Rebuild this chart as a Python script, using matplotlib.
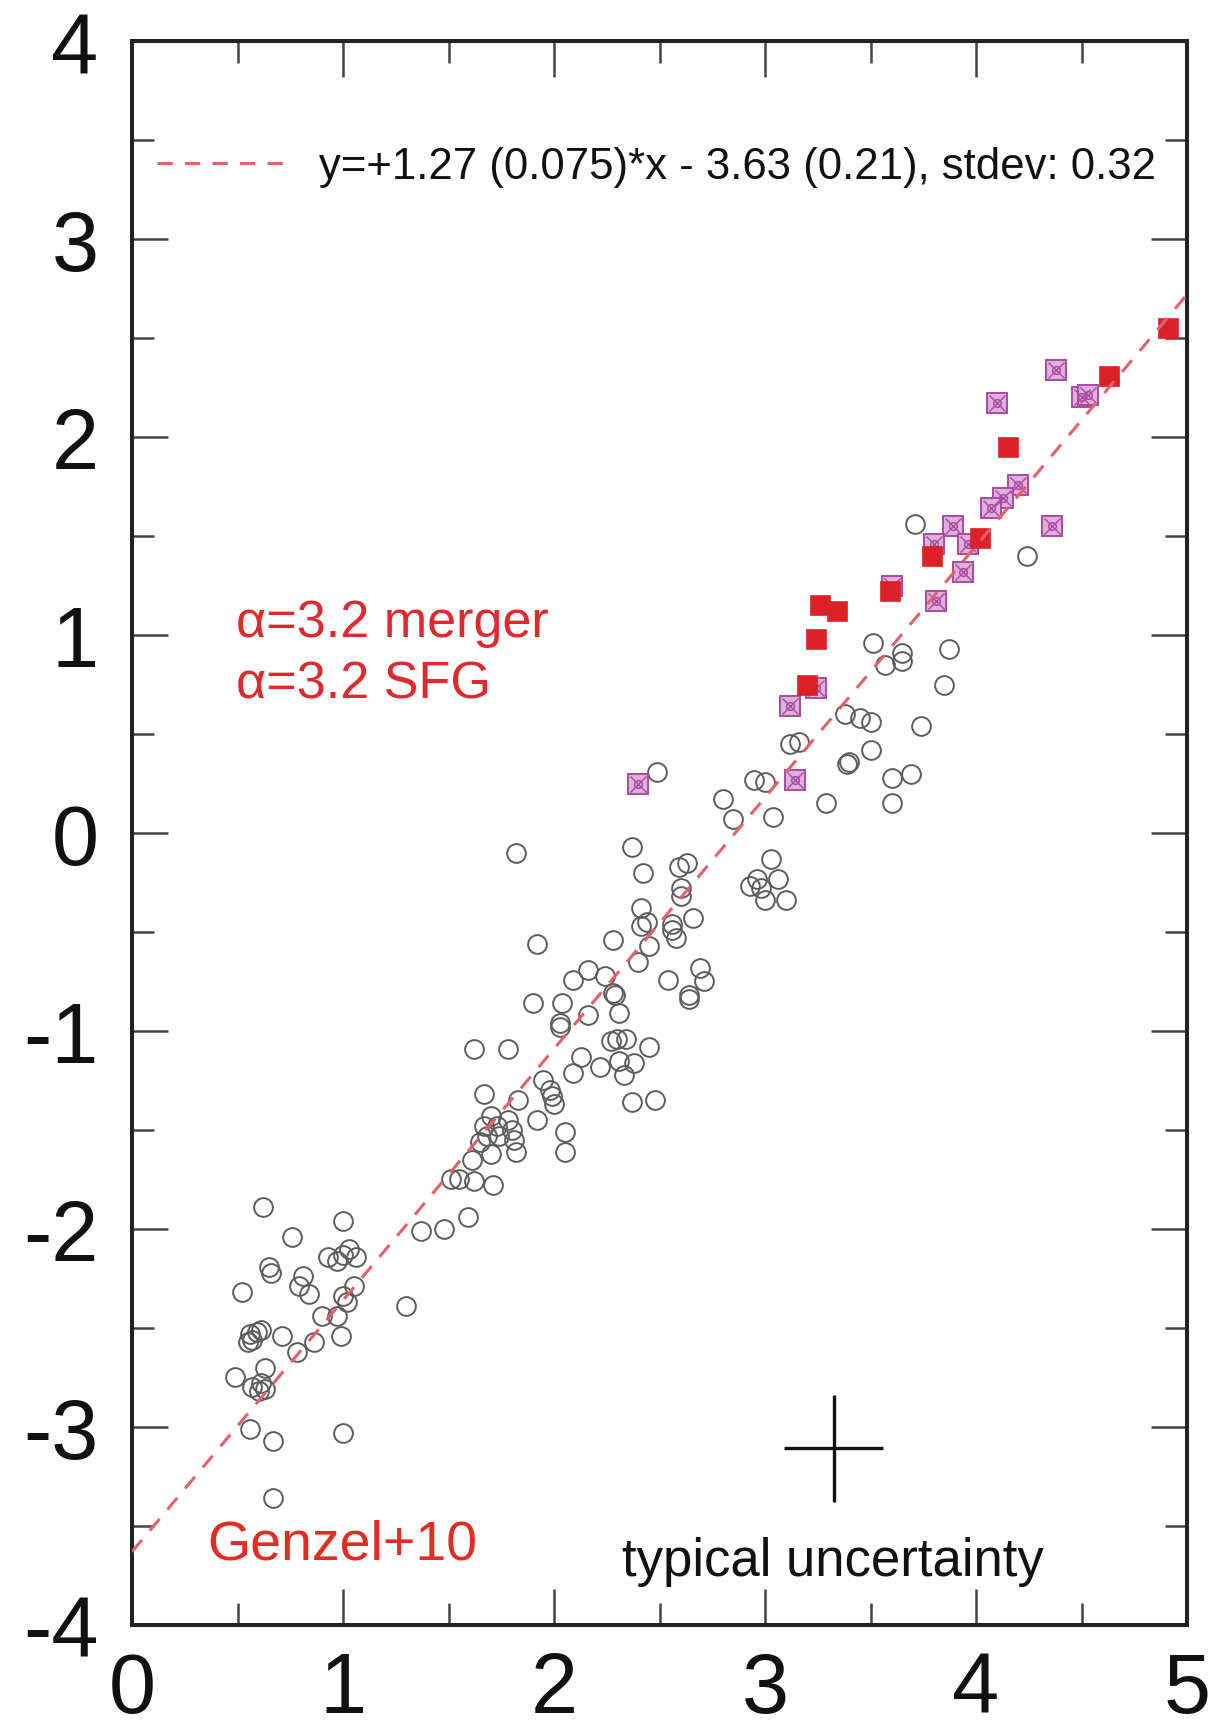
import matplotlib
matplotlib.use("Agg")
import matplotlib.pyplot as plt
import numpy as np
from matplotlib.ticker import MultipleLocator

plt.rcParams['font.family'] = ['Liberation Sans', 'DejaVu Sans']
plt.rcParams['axes.unicode_minus'] = False

# ---------------- data ----------------
# Genzel+10 sample (grey open circles)
circle_x = [3.71, 4.24, 3.51, 3.57, 3.65, 3.65, 3.87, 3.85, 3.38, 3.45, 3.50, 3.74,
            3.50, 3.40, 3.39, 3.60, 3.69, 3.60, 3.29, 3.12, 3.16, 2.49, 2.95, 3.00,
            2.80, 2.85, 3.04, 3.03, 2.96, 2.93, 2.98, 3.06, 3.00, 3.10, 2.37, 2.42,
            2.59, 2.63, 2.60, 2.60, 2.41, 2.41, 2.44, 2.56, 2.56, 2.58, 2.66, 2.28,
            2.45, 2.40, 2.16, 2.09, 2.24, 2.28, 2.29, 2.16, 2.31, 2.04, 2.03, 2.03,
            2.54, 2.69, 2.71, 2.64, 2.64, 1.90, 1.82, 1.92, 2.27, 2.30, 2.34, 2.45,
            2.13, 2.09, 2.22, 2.31, 2.38, 2.33, 1.62, 1.78, 1.95, 1.98, 1.99, 2.00,
            2.37, 2.48, 1.92, 2.05, 2.05, 1.67, 1.83, 1.70, 1.67, 1.73, 1.78, 1.80,
            1.68, 1.74, 1.81, 1.82, 1.65, 1.70, 1.61, 1.51, 1.55, 1.62, 1.71, 1.59,
            1.37, 1.48, 0.62, 0.76, 1.00, 0.65, 0.66, 0.52, 0.81, 0.79, 0.84, 0.93,
            0.97, 1.03, 1.06, 1.00, 1.00, 1.05, 1.02, 0.90, 0.97, 0.71, 0.78, 0.86,
            0.99, 1.30, 0.56, 0.59, 0.61, 0.55, 0.57, 0.63, 0.49, 0.57, 0.61, 0.60,
            0.63, 0.56, 0.67, 1.00, 0.67]
circle_y = [1.56, 1.40, 0.96, 0.85, 0.91, 0.87, 0.93, 0.75, 0.60, 0.58, 0.56, 0.54,
            0.42, 0.36, 0.35, 0.28, 0.30, 0.15, 0.15, 0.45, 0.46, 0.31, 0.27, 0.26,
            0.17, 0.07, 0.08, -0.13, -0.23, -0.27, -0.28, -0.23, -0.34, -0.34, -0.07, -0.20,
            -0.17, -0.15, -0.28, -0.32, -0.38, -0.47, -0.45, -0.46, -0.49, -0.53, -0.43, -0.54,
            -0.57, -0.65, -0.69, -0.74, -0.72, -0.81, -0.82, -0.92, -0.91, -0.86, -0.96, -0.98,
            -0.74, -0.68, -0.75, -0.82, -0.84, -0.86, -0.10, -0.56, -1.05, -1.04, -1.04, -1.08,
            -1.13, -1.21, -1.18, -1.15, -1.16, -1.22, -1.09, -1.09, -1.25, -1.30, -1.33, -1.37,
            -1.36, -1.35, -1.45, -1.51, -1.61, -1.32, -1.35, -1.43, -1.48, -1.48, -1.45, -1.50,
            -1.53, -1.53, -1.55, -1.61, -1.56, -1.62, -1.65, -1.75, -1.75, -1.76, -1.78, -1.94,
            -2.01, -2.00, -1.89, -2.04, -1.96, -2.19, -2.22, -2.32, -2.24, -2.29, -2.33, -2.14,
            -2.16, -2.10, -2.14, -2.13, -2.34, -2.29, -2.37, -2.44, -2.44, -2.54, -2.62, -2.57,
            -2.54, -2.39, -2.53, -2.52, -2.51, -2.57, -2.56, -2.70, -2.75, -2.80, -2.78, -2.82,
            -2.81, -3.01, -3.07, -3.03, -3.36]

# alpha=3.2 merger (red filled squares)
merger_x = [4.91, 4.63, 4.15, 4.02, 3.79, 3.59, 3.26, 3.34, 3.24, 3.20]
merger_y = [2.55, 2.31, 1.95, 1.49, 1.40, 1.22, 1.15, 1.12, 0.98, 0.75]

# alpha=3.2 SFG (purple squares)
sfg_x = [4.38, 4.10, 4.50, 4.53, 4.20, 4.13, 4.07, 3.89, 4.36, 3.80,
         3.96, 3.94, 3.81, 3.60, 3.24, 3.12, 3.14, 2.40]
sfg_y = [2.34, 2.17, 2.20, 2.21, 1.76, 1.69, 1.64, 1.55, 1.55, 1.46,
         1.46, 1.32, 1.17, 1.25, 0.73, 0.64, 0.27, 0.25]

fit_slope = 1.27
fit_intercept = -3.63
fit_label = "y=+1.27 (0.075)*x - 3.63 (0.21), stdev: 0.32"

unc_x, unc_y = 3.325, -3.107
unc_dx, unc_dy = 0.236, 0.27

x_ticks = [0, 1, 2, 3, 4, 5]
y_ticks = [-4, -3, -2, -1, 0, 1, 2, 3, 4]

# ---------------- figure ----------------
fig = plt.figure(figsize=(12.25, 17.31), dpi=100)
ax = fig.add_axes([0.1078, 0.0607, 0.8612, 0.915])

ax.plot(circle_x, circle_y, 'o', ls='none', ms=13.5, mfc='none',
        mec='#5c5c5c', mew=1.4, zorder=2)

purple = '#a94aa3'
ax.plot(sfg_x, sfg_y, 's', ls='none', ms=14, mfc='#dfb0db', mec=purple,
        mew=1.4, zorder=3)
ax.plot(sfg_x, sfg_y, 'x', ls='none', ms=12, mec=purple, mew=1.0, zorder=3)
ax.plot(sfg_x, sfg_y, 'o', ls='none', ms=5.5, mfc='none', mec=purple,
        mew=1.1, zorder=3)

ax.plot(merger_x, merger_y, 's', ls='none', ms=14.5, mfc='#dc2228',
        mec='#dc2228', mew=0.5, zorder=4)

xl = np.array([0.0, 5.0])
ax.plot(xl, fit_slope * xl + fit_intercept, ls=(0, (5, 4)), color='#e5606b',
        lw=2.2, zorder=5, label=fit_label)

ax.errorbar([unc_x], [unc_y], xerr=[unc_dx], yerr=[unc_dy], fmt='none',
            ecolor='#111111', elinewidth=2.4, capsize=0, zorder=5)

leg = ax.legend(loc='center left', bbox_to_anchor=(0.024, 0.9206),
                frameon=False, fontsize=31.5, handlelength=3.0,
                handletextpad=0.7, borderpad=0, borderaxespad=0)
for t in leg.get_texts():
    t.set_color('#111111')

ax.text(0.492, 0.995, "α=3.2 merger", color='#e0282d', fontsize=37.5,
        ha='left', va='baseline')
ax.text(0.492, 0.686, "α=3.2 SFG", color='#e0282d', fontsize=37.5,
        ha='left', va='baseline')
ax.text(0.356, -3.665, "Genzel+10", color='#e52b1f', fontsize=40,
        ha='left', va='baseline')
ax.text(3.32, -3.748, "typical uncertainty", color='#111111', fontsize=38,
        ha='center', va='baseline')

ax.set_xlim(0, 5)
ax.set_ylim(-4, 4)
ax.set_xticks(x_ticks)
ax.set_yticks(y_ticks)
ax.xaxis.set_minor_locator(MultipleLocator(0.5))
ax.yaxis.set_minor_locator(MultipleLocator(0.5))
ax.tick_params(which='both', direction='in', top=True, right=True,
               color='#444444', width=1.8)
ax.tick_params(which='major', length=26, labelsize=61, labelcolor='#111111')
ax.tick_params(which='minor', length=16)
ax.tick_params(axis='x', which='major', pad=18)
ax.tick_params(axis='y', which='major', pad=24)
for s in ax.spines.values():
    s.set_linewidth(2.9)
    s.set_color('#222222')

fig.savefig('out.png', dpi=100)
